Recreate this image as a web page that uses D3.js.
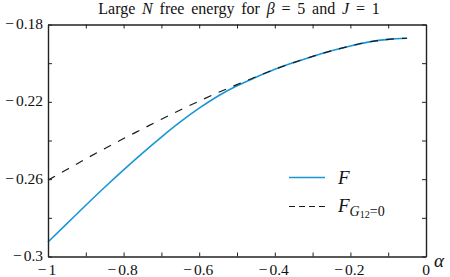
<!DOCTYPE html>
<html>
<head>
<meta charset="utf-8">
<script src="https://cdn.jsdelivr.net/npm/d3@7"></script>
<style>
  body { margin: 0; background: #fff; }
  text { font-family: "Liberation Serif", "DejaVu Serif", serif; fill: #111; }
</style>
</head>
<body>
<svg id="chart" width="450" height="277"></svg>
<script>
// alpha grid and the two free energy curves
const alpha = [-1, -0.95, -0.9, -0.85, -0.8, -0.75, -0.7, -0.65, -0.6, -0.55,
  -0.5, -0.45, -0.4, -0.35, -0.3, -0.25, -0.2, -0.15, -0.1, -0.05];
const freeF = [-0.2925, -0.2830, -0.2735, -0.2642, -0.2552, -0.2465, -0.2382, -0.2304, -0.2233, -0.2170,
  -0.2117, -0.2073, -0.2032, -0.1997, -0.1965, -0.1936, -0.1911, -0.1890, -0.1877, -0.1871];
const freeG0 = [-0.2605, -0.2550, -0.2495, -0.2442, -0.2390, -0.2340, -0.2290, -0.2242, -0.2196, -0.2152,
  -0.2111, -0.2071, -0.2032, -0.1997, -0.1965, -0.1936, -0.1911, -0.1890, -0.1877, -0.1871];
const xTicks = [-1, -0.9, -0.8, -0.7, -0.6, -0.5, -0.4, -0.3, -0.2, -0.1, 0];
const xLabels = [-1, -0.8, -0.6, -0.4, -0.2, 0];
const yTicks = [-0.3, -0.28, -0.26, -0.24, -0.22, -0.2, -0.18];
const yLabels = [-0.3, -0.26, -0.22, -0.18];

const svg = d3.select('#chart');
const plotL = 48, plotR = 426, plotT = 24.5, plotB = 256.5;

const x = d3.scaleLinear().domain([-1, 0]).range([plotL, plotR]);
const y = d3.scaleLinear().domain([-0.3, -0.18]).range([plotB, plotT]);

// curves
const line = d3.line().x((d, i) => x(alpha[i])).y(d => y(d)).curve(d3.curveMonotoneX);
svg.append('path')
  .datum(freeF)
  .attr('d', line)
  .attr('fill', 'none')
  .attr('stroke', '#1a96d6')
  .attr('stroke-width', 1.6);
svg.append('path')
  .datum(freeG0)
  .attr('d', line)
  .attr('fill', 'none')
  .attr('stroke', '#1a1a1a')
  .attr('stroke-width', 1.2)
  .attr('stroke-dasharray', '8,8');

// axes: bottom/left with labels, top/right mirrored ticks
const tl = 4;
svg.append('g')
  .attr('transform', `translate(0,${plotB})`)
  .call(d3.axisBottom(x).tickValues(xTicks).tickSizeInner(-tl).tickSizeOuter(0).tickFormat(''));
svg.append('g')
  .attr('transform', `translate(0,${plotT})`)
  .call(d3.axisTop(x).tickValues(xTicks).tickSizeInner(-tl).tickSizeOuter(0).tickFormat(''));
svg.append('g')
  .attr('transform', `translate(${plotL},0)`)
  .call(d3.axisLeft(y).tickValues(yTicks).tickSizeInner(-tl).tickSizeOuter(0).tickFormat(''));
svg.append('g')
  .attr('transform', `translate(${plotR},0)`)
  .call(d3.axisRight(y).tickValues(yTicks).tickSizeInner(-tl).tickSizeOuter(0).tickFormat(''));
svg.selectAll('.domain, .tick line').attr('stroke', '#222');
svg.selectAll('.domain').attr('stroke-width', 1.4);
svg.selectAll('.tick line').attr('stroke-width', 1);

// tick labels, with a wide minus sign like the LaTeX one
function signed(sel) {
  sel.each(function (d) {
    const t = d3.select(this);
    if (d < 0) t.append('tspan').text('\u2212');
    t.append('tspan').attr('dx', d < 0 ? 2 : 0).text(String(Math.abs(d)));
  });
}
svg.selectAll('.xlab')
  .data(xLabels)
  .enter()
  .append('text')
  .attr('class', 'xlab')
  .attr('x', d => x(d) + (d < 0 ? -1 : 0))
  .attr('y', 274.5)
  .attr('text-anchor', 'middle')
  .style('font-size', '15.5px')
  .call(signed);
svg.selectAll('.ylab')
  .data(yLabels)
  .enter()
  .append('text')
  .attr('class', 'ylab')
  .attr('x', 43)
  .attr('y', d => y(d) + 4.5)
  .attr('text-anchor', 'end')
  .style('font-size', '15.5px')
  .call(signed);

// axis label alpha
svg.append('text')
  .attr('x', 434)
  .attr('y', 267)
  .style('font-size', '19px')
  .style('font-style', 'italic')
  .text('\u03B1');

// title
const title = svg.append('text')
  .attr('x', 239)
  .attr('y', 14)
  .attr('text-anchor', 'middle')
  .style('font-size', '16px')
  .style('word-spacing', '2.8px');
title.append('tspan').text('Large ');
title.append('tspan').style('font-style', 'italic').text('N');
title.append('tspan').text(' free energy for ');
title.append('tspan').style('font-style', 'italic').text('\u03B2');
title.append('tspan').text(' = 5 and ');
title.append('tspan').style('font-style', 'italic').text('J');
title.append('tspan').text(' = 1');

// legend
const legend = svg.append('g');
legend.append('line')
  .attr('x1', 289).attr('x2', 325).attr('y1', 177.5).attr('y2', 177.5)
  .attr('stroke', '#1a96d6').attr('stroke-width', 1.6);
legend.append('line')
  .attr('x1', 289).attr('x2', 325).attr('y1', 206.5).attr('y2', 206.5)
  .attr('stroke', '#1a1a1a').attr('stroke-width', 1.2).attr('stroke-dasharray', '6,4');
legend.append('text')
  .attr('x', 338).attr('y', 184)
  .style('font-size', '19px').style('font-style', 'italic')
  .text('F');
const lt = legend.append('text')
  .attr('x', 338).attr('y', 212)
  .style('font-size', '19px').style('font-style', 'italic');
lt.append('tspan').text('F');
lt.append('tspan').attr('dy', 4).style('font-size', '14px').text('G');
lt.append('tspan').attr('dy', 2).style('font-size', '10px').style('font-style', 'normal').text('12');
lt.append('tspan').attr('dy', -2).style('font-size', '14px').style('font-style', 'normal').text('=0');
</script>
</body>
</html>
